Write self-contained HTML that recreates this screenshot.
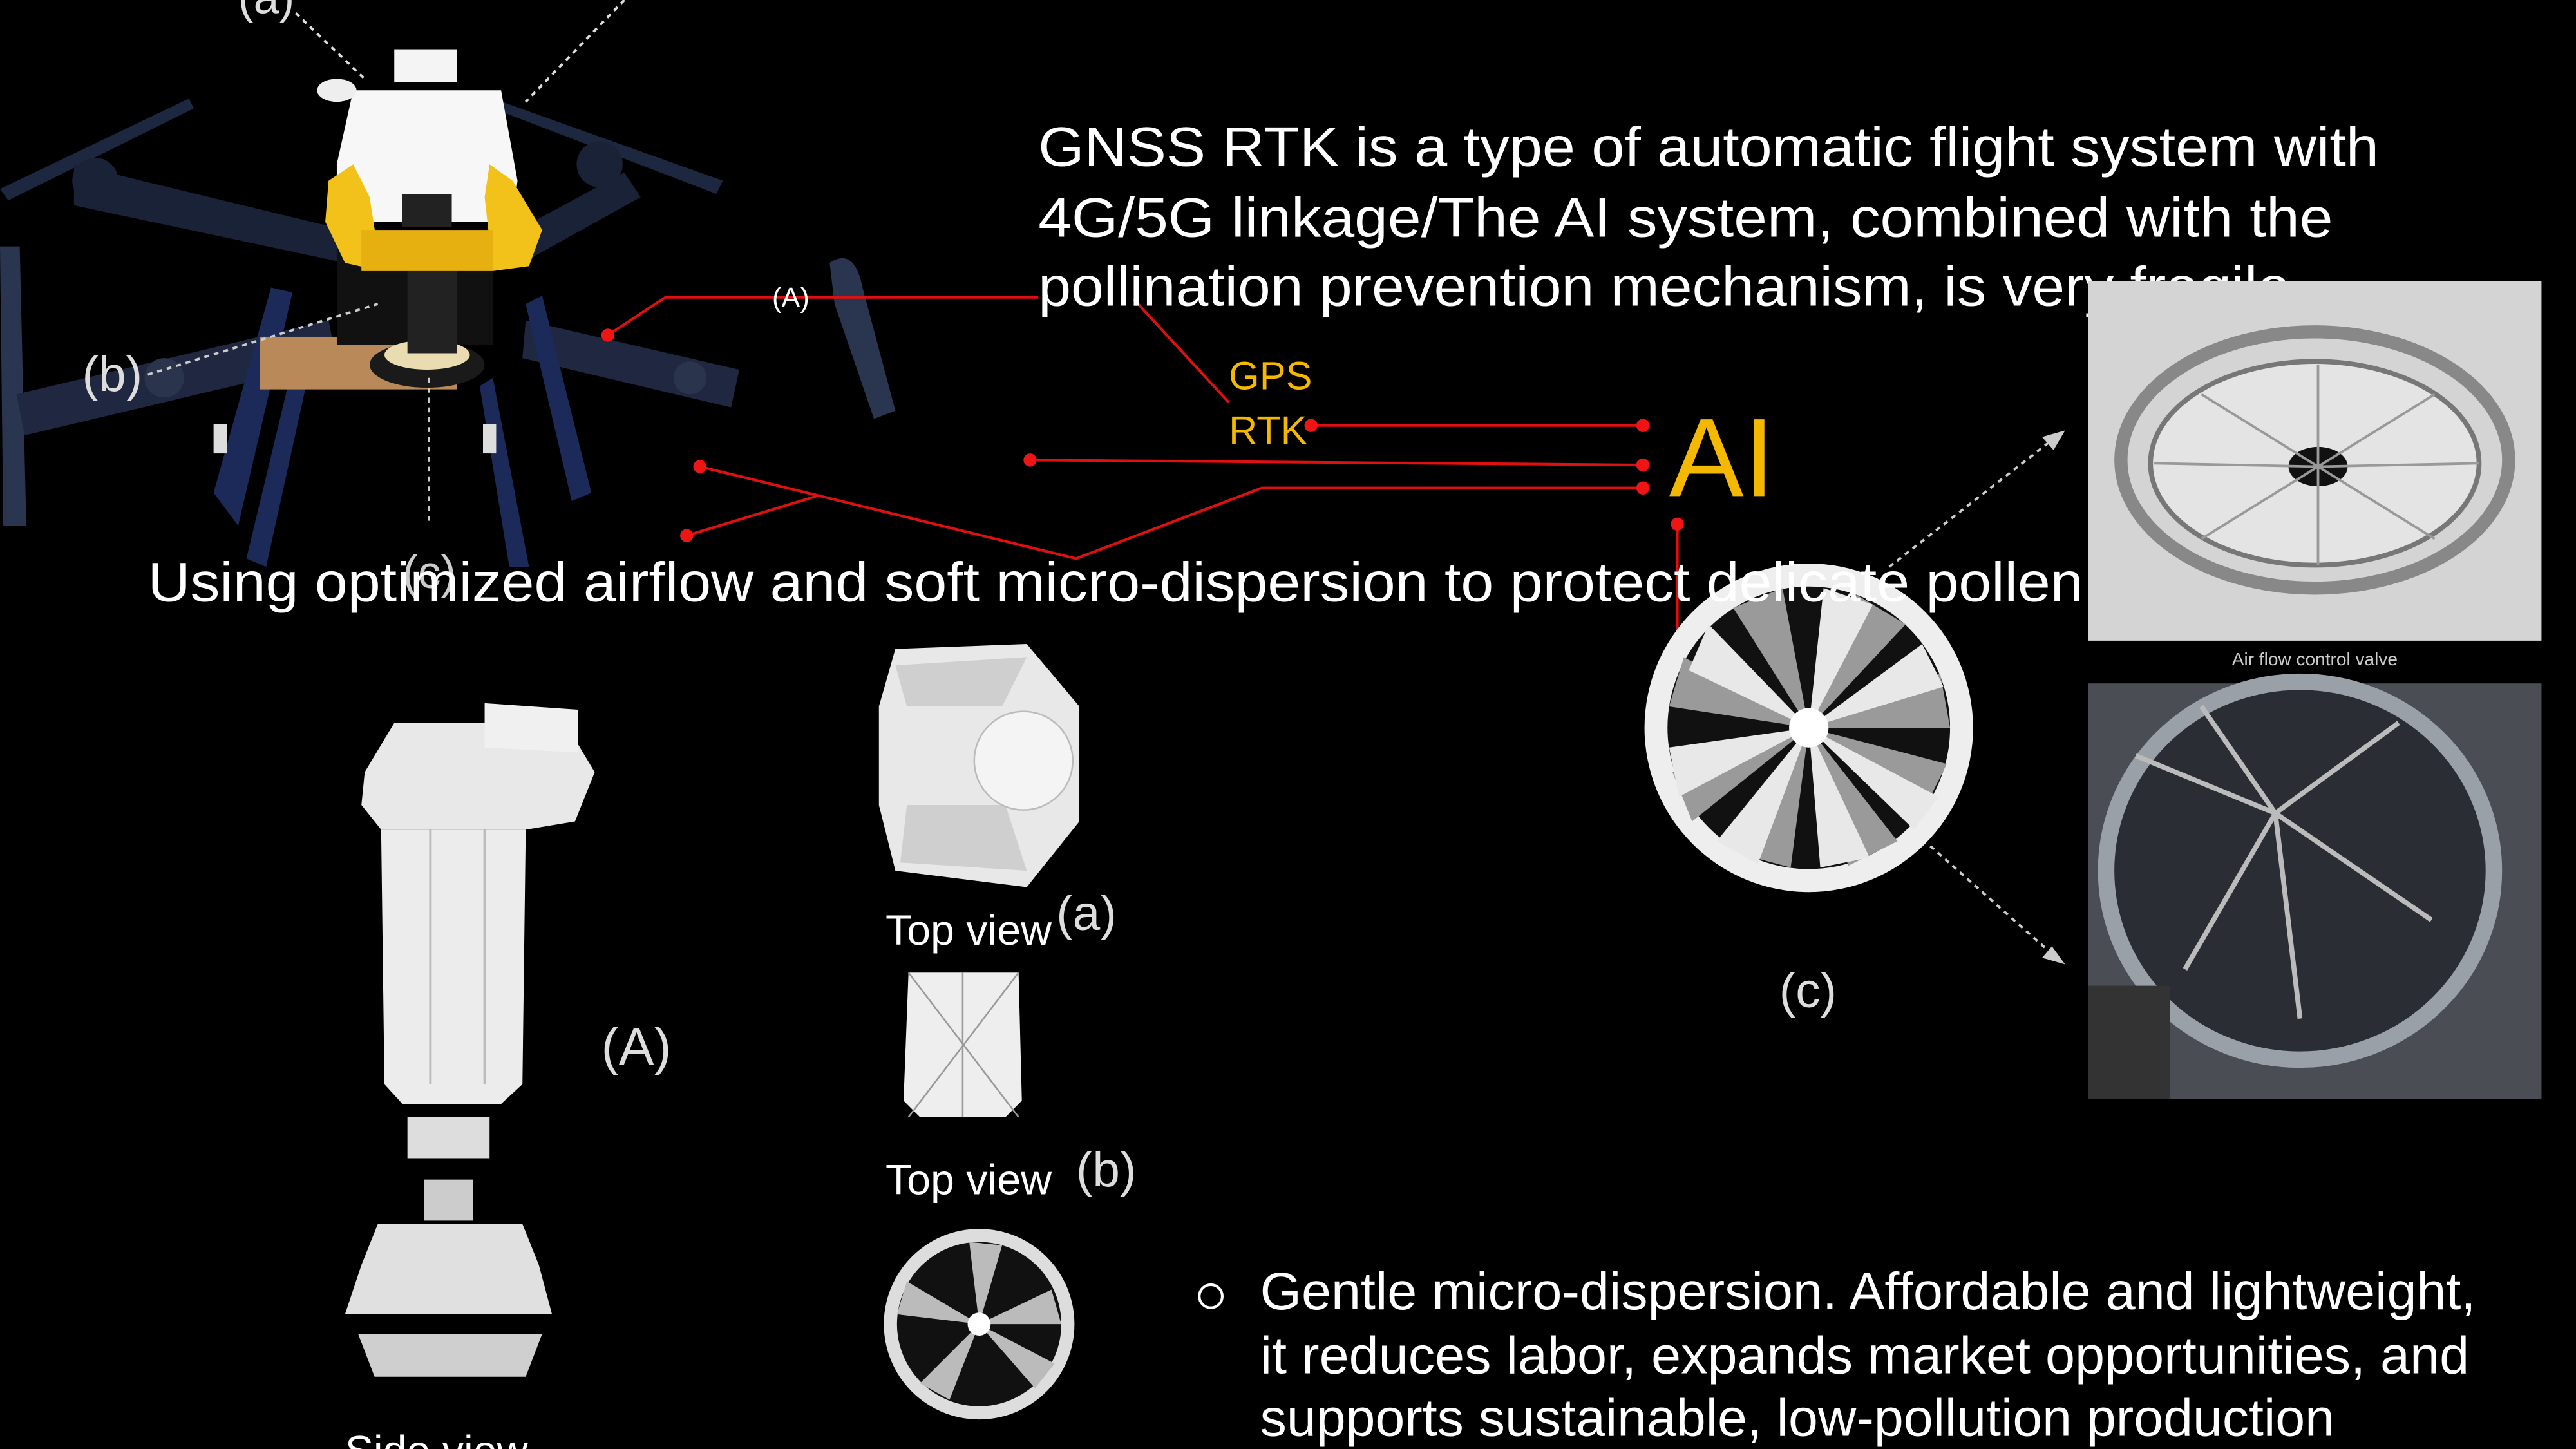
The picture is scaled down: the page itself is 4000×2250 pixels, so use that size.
<!DOCTYPE html>
<html><head><meta charset="utf-8"><style>
html,body{margin:0;padding:0;background:#000;width:4000px;height:2250px;overflow:hidden}
svg{display:block}
text{font-family:"Liberation Sans",sans-serif}
</style></head><body>
<svg width="4000" height="2250" viewBox="0 0 1568 882" preserveAspectRatio="none" xmlns="http://www.w3.org/2000/svg">
<rect width="1568" height="882" fill="#000"/>
<defs>
<g id="fanblades">
</g>
</defs>
<!-- Drone -->
<g>
 <!-- propellers -->
 <path d="M0 115 L115 60 L118 66 L5 122Z" fill="#1e2740"/>
 <path d="M300 60 L440 110 L436 118 L300 66Z" fill="#1e2740"/>
 <path d="M505 160 Q520 150 525 175 L545 250 L532 255 L508 185Z" fill="#2a3550"/>
 <path d="M0 150 L12 150 L16 320 L2 320Z" fill="#2a3550"/>
 <!-- upper arms -->
 <path d="M45 100 L210 140 L210 160 L45 125Z" fill="#1a2238"/>
 <path d="M315 140 L380 105 L390 120 L318 160Z" fill="#1a2238"/>
 <circle cx="58" cy="110" r="14" fill="#1a2238"/>
 <circle cx="365" cy="100" r="14" fill="#1a2238"/>
 <!-- lower arms -->
 <path d="M10 240 L200 195 L205 220 L15 265Z" fill="#1f2840"/>
 <path d="M320 195 L450 225 L445 248 L318 218Z" fill="#1f2840"/>
 <circle cx="100" cy="230" r="12" fill="#2a344c"/>
 <circle cx="420" cy="230" r="10" fill="#2a344c"/>
 <!-- legs -->
 <path d="M130 300 L165 175 L178 178 L145 320Z" fill="#1c2a5a"/>
 <path d="M150 340 L180 215 L190 218 L162 345Z" fill="#1c2a5a"/>
 <path d="M330 180 L360 300 L348 305 L320 185Z" fill="#1c2a5a"/>
 <path d="M300 230 L322 345 L310 345 L292 235Z" fill="#1c2a5a"/>
 <rect x="130" y="258" width="8" height="18" fill="#ddd"/>
 <rect x="294" y="258" width="8" height="18" fill="#ddd"/>
 <!-- board -->
 <rect x="158" y="205" width="120" height="32" fill="#b9895a"/>
 <!-- body -->
 <rect x="205" y="150" width="95" height="60" fill="#111"/>
 <ellipse cx="260" cy="222" rx="35" ry="14" fill="#1a1a1a"/>
 <ellipse cx="260" cy="216" rx="26" ry="9" fill="#e8dcb0"/>
 <rect x="248" y="160" width="30" height="55" fill="#222"/>
 <!-- tank -->
 <rect x="240" y="30" width="38" height="20" fill="#f4f4f4"/>
 <path d="M215 55 L305 55 L315 110 L312 135 L205 135 L205 100Z" fill="#f7f7f7"/>
 <ellipse cx="205" cy="55" rx="12" ry="7" fill="#eee"/>
 <!-- yellow shell -->
 <path d="M200 110 L215 100 L225 120 L232 165 L210 160 L198 135Z" fill="#f2c21b"/>
 <path d="M298 100 L312 110 L330 140 L322 162 L300 165 L295 120Z" fill="#f2c21b"/>
 <path d="M220 140 L300 140 L300 165 L220 165Z" fill="#e6b010"/>
 <rect x="245" y="118" width="30" height="20" fill="#222"/>
 <!-- dashed annotations -->
 <path d="M180 8 L222 48" stroke="#ddd" stroke-width="1.5" stroke-dasharray="3,3" fill="none"/>
 <path d="M380 0 L320 62" stroke="#ddd" stroke-width="1.5" stroke-dasharray="3,3" fill="none"/>
 <path d="M90 228 L230 185" stroke="#ccc" stroke-width="1.5" stroke-dasharray="3,3" fill="none"/>
 <path d="M261 230 L261 318" stroke="#ccc" stroke-width="1.2" stroke-dasharray="3,3" fill="none"/>
 <text x="145" y="8" fill="#ddd" font-size="28">(a)</text>
 <text x="50" y="238" fill="#ddd" font-size="30">(b)</text>
 <text x="245" y="358" fill="#ccc" font-size="28">(c)</text>
</g>

<!-- Red connectors -->
<g stroke="#e01010" stroke-width="1.6" fill="none">
 <path d="M370 204 L405 181 L632 181"/>
 <path d="M690 182 L748 245"/>
 <path d="M798 259 L1000 259"/>
 <path d="M627 280 L1000 283"/>
 <path d="M426 284 L655 340 L768 297 L1000 297"/>
 <path d="M418 326 L497 302"/>
 <path d="M1021 319 L1021 483"/>
</g>
<g fill="#f01515">
 <circle cx="370" cy="204" r="4"/><circle cx="798" cy="259" r="4"/>
 <circle cx="1000" cy="259" r="4"/><circle cx="627" cy="280" r="4"/>
 <circle cx="1000" cy="283" r="4"/><circle cx="426" cy="284" r="4"/>
 <circle cx="418" cy="326" r="4"/><circle cx="1000" cy="297" r="4"/>
 <circle cx="1021" cy="319" r="4"/><circle cx="1021" cy="483" r="4"/>
</g>
<text x="470" y="187" fill="#fff" font-size="17">(A)</text>

<!-- Top text -->
<text x="632" y="101" fill="#fff" font-size="34" textLength="816" lengthAdjust="spacingAndGlyphs">GNSS RTK is a type of automatic flight system with</text>
<text x="632" y="144" fill="#fff" font-size="34" textLength="788" lengthAdjust="spacingAndGlyphs">4G/5G linkage/The AI system, combined with the</text>
<text x="632" y="186" fill="#fff" font-size="34" textLength="772" lengthAdjust="spacingAndGlyphs">pollination prevention mechanism, is very fragile.</text>
<text x="748" y="237" fill="#f5b800" font-size="24">GPS</text>
<text x="748" y="270" fill="#f5b800" font-size="24">RTK</text>
<text x="1016" y="302" fill="#f5b800" font-size="68">AI</text>

<!-- Photos -->
<rect x="1271" y="171" width="276" height="219" fill="#d4d4d4"/>
<ellipse cx="1409" cy="280" rx="118" ry="78" fill="none" stroke="#888" stroke-width="8"/>
<ellipse cx="1409" cy="282" rx="100" ry="62" fill="#e4e4e4" stroke="#777" stroke-width="3"/>
<ellipse cx="1411" cy="284" rx="18" ry="12" fill="#111"/>
<g stroke="#999" stroke-width="1.5">
 <path d="M1411 284 L1311 282 M1411 284 L1509 282 M1411 284 L1411 222 M1411 284 L1411 344 M1411 284 L1340 240 M1411 284 L1482 240 M1411 284 L1340 328 M1411 284 L1482 328"/>
</g>
<text x="1409" y="405" fill="#ccc" font-size="11" text-anchor="middle">Air flow control valve</text>
<rect x="1271" y="416" width="276" height="253" fill="#4a4e54"/>
<ellipse cx="1400" cy="530" rx="118" ry="115" fill="#2a2d33" stroke="#9aa0a8" stroke-width="10"/>
<g stroke="#bbb" stroke-width="3">
 <path d="M1385 495 L1300 460 M1385 495 L1330 590 M1385 495 L1460 440 M1385 495 L1480 560 M1385 495 L1400 620 M1385 495 L1340 430"/>
</g>
<rect x="1271" y="600" width="50" height="69" fill="#333"/>

<!-- Dashed arrows -->
<g stroke="#ccc" stroke-width="1.5" stroke-dasharray="3,3" fill="none">
 <path d="M1150 345 L1254 264"/><path d="M1175 515 L1254 585"/>
</g>
<path d="M1257 262 L1243 266 L1250 274Z" fill="#ccc"/>
<path d="M1257 587 L1243 583 L1249 576Z" fill="#ccc"/>

<!-- Big fan -->
<circle cx="1101" cy="443" r="100" fill="#eee"/>
<circle cx="1101" cy="443" r="86" fill="#111"/>
<g fill="#9a9a9a">
 <path d="M1101 443 L1187 443 L1181 410Z"/><path d="M1101 443 L1160 380 L1130 362Z"/>
 <path d="M1101 443 L1085 358 L1055 370Z"/><path d="M1101 443 L1025 400 L1016 430Z"/>
 <path d="M1101 443 L1018 470 L1030 500Z"/><path d="M1101 443 L1060 520 L1090 528Z"/>
 <path d="M1101 443 L1125 527 L1155 512Z"/><path d="M1101 443 L1170 495 L1185 465Z"/>
</g>
<g fill="#e8e8e8">
 <path d="M1101 443 L1183 418 L1170 392Z"/><path d="M1101 443 L1110 358 L1140 368Z"/>
 <path d="M1101 443 L1040 380 L1028 408Z"/><path d="M1101 443 L1016 455 L1022 485Z"/>
 <path d="M1101 443 L1045 512 L1070 526Z"/><path d="M1101 443 L1108 528 L1138 522Z"/>
 <path d="M1101 443 L1165 505 L1180 485Z"/>
</g>
<circle cx="1101" cy="443" r="12" fill="#fff"/>
<text x="1083" y="613" fill="#ddd" font-size="30">(c)</text>

<!-- Middle text -->
<text x="90" y="366" fill="#fff" font-size="34" textLength="1178" lengthAdjust="spacingAndGlyphs">Using optimized airflow and soft micro-dispersion to protect delicate pollen</text>

<!-- 3D parts -->
<path d="M222 470 L240 440 L300 440 L350 450 L362 470 L350 500 L320 505 L232 505 L220 490Z" fill="#e8e8e8"/>
<path d="M295 428 L352 432 L352 458 L295 455Z" fill="#f0f0f0"/>
<path d="M232 505 L320 505 L318 660 L305 672 L245 672 L234 660Z" fill="#ececec"/>
<path d="M262 505 L262 660 M295 505 L295 660" stroke="#bbb" stroke-width="1.5"/>
<rect x="248" y="680" width="50" height="25" fill="#ddd"/>
<rect x="258" y="718" width="30" height="25" fill="#ccc"/>
<path d="M230 745 L318 745 L328 770 L336 800 L210 800 L220 770Z" fill="#e0e0e0"/>
<path d="M218 812 L330 812 L320 838 L228 838Z" fill="#cfcfcf"/>
<text x="366" y="648" fill="#ddd" font-size="32">(A)</text>
<text x="210" y="892" fill="#fff" font-size="26">Side view</text>

<path d="M545 395 L625 392 L657 430 L657 500 L625 540 L545 530 L535 490 L535 430Z" fill="#e8e8e8"/>
<path d="M545 405 L625 400 L610 430 L552 430Z" fill="#cfcfcf"/>
<path d="M552 490 L612 490 L625 530 L548 525Z" fill="#cfcfcf"/>
<circle cx="623" cy="463" r="30" fill="#f4f4f4" stroke="#bbb"/>
<text x="539" y="575" fill="#fff" font-size="26">Top view</text>
<text x="643" y="566" fill="#ddd" font-size="30">(a)</text>
<path d="M553 592 L620 592 L622 670 L612 680 L560 680 L550 670Z" fill="#eee"/>
<path d="M553 592 L620 680 M620 592 L553 680 M586 592 L586 680" stroke="#999" stroke-width="1"/>
<text x="539" y="727" fill="#fff" font-size="26">Top view</text>
<text x="655" y="722" fill="#ddd" font-size="30">(b)</text>
<circle cx="596" cy="806" r="58" fill="#ddd"/>
<circle cx="596" cy="806" r="50" fill="#111"/>
<g fill="#bbb">
 <path d="M596 806 L646 806 L640 785Z"/><path d="M596 806 L610 758 L590 756Z"/>
 <path d="M596 806 L552 780 L546 800Z"/><path d="M596 806 L560 842 L578 852Z"/>
 <path d="M596 806 L630 845 L642 830Z"/>
</g>
<circle cx="596" cy="806" r="7" fill="#fff"/>

<!-- Bullet -->
<circle cx="737" cy="789" r="7" fill="none" stroke="#fff" stroke-width="1.6"/>
<text x="767" y="797" fill="#fff" font-size="32" textLength="740" lengthAdjust="spacingAndGlyphs">Gentle micro-dispersion. Affordable and lightweight,</text>
<text x="767" y="836" fill="#fff" font-size="32" textLength="736" lengthAdjust="spacingAndGlyphs">it reduces labor, expands market opportunities, and</text>
<text x="767" y="874" fill="#fff" font-size="32" textLength="654" lengthAdjust="spacingAndGlyphs">supports sustainable, low-pollution production</text>
</svg>
</body></html>
